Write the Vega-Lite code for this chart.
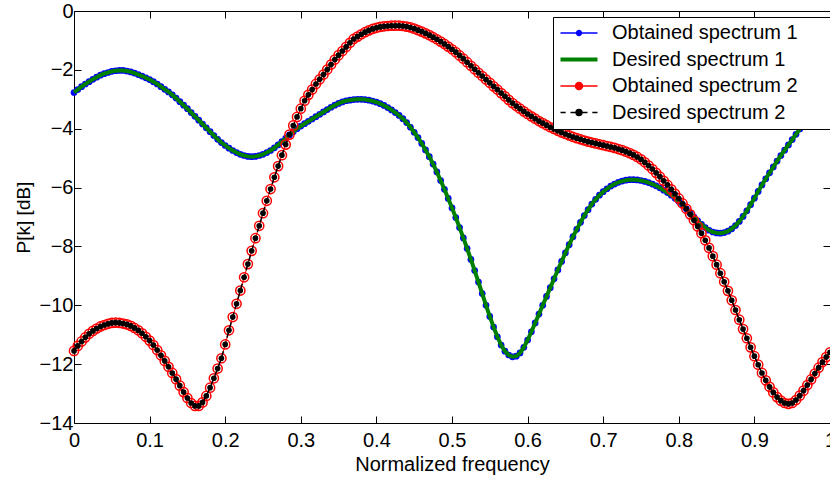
{
  "$schema": "https://vega.github.io/schema/vega-lite/v6.json",
  "width": 756,
  "height": 412,
  "autosize": "none",
  "padding": {"left": 74, "top": 11, "right": 0, "bottom": 55},
  "background": "white",
  "config": {
    "view": {"stroke": null},
    "font": "Liberation Sans",
    "axis": {
      "domainColor": "black", "tickColor": "black", "labelColor": "black", "titleColor": "black",
      "domainWidth": 1, "tickWidth": 1, "tickSize": -7, "grid": false,
      "labelFont": "Liberation Sans", "labelFontSize": 20, "titleFont": "Liberation Sans",
      "titleFontSize": 20, "titleFontWeight": "normal", "labelFlush": false, "labelOverlap": false
    }
  },
  "data": {"values": [
{"f":0.000,"s1":-2.77,"s2":-11.55},{"f":0.005,"s1":-2.67,"s2":-11.38},{"f":0.010,"s1":-2.57,"s2":-11.23},{"f":0.015,"s1":-2.48,"s2":-11.09},{"f":0.020,"s1":-2.40,"s2":-10.97},
{"f":0.025,"s1":-2.32,"s2":-10.87},{"f":0.030,"s1":-2.25,"s2":-10.79},{"f":0.035,"s1":-2.18,"s2":-10.72},{"f":0.040,"s1":-2.13,"s2":-10.67},{"f":0.045,"s1":-2.09,"s2":-10.63},
{"f":0.050,"s1":-2.05,"s2":-10.60},{"f":0.055,"s1":-2.03,"s2":-10.59},{"f":0.060,"s1":-2.02,"s2":-10.60},{"f":0.065,"s1":-2.02,"s2":-10.62},{"f":0.070,"s1":-2.04,"s2":-10.65},
{"f":0.075,"s1":-2.07,"s2":-10.70},{"f":0.080,"s1":-2.11,"s2":-10.77},{"f":0.085,"s1":-2.16,"s2":-10.85},{"f":0.090,"s1":-2.21,"s2":-10.95},{"f":0.095,"s1":-2.27,"s2":-11.07},
{"f":0.100,"s1":-2.33,"s2":-11.20},{"f":0.105,"s1":-2.40,"s2":-11.35},{"f":0.110,"s1":-2.48,"s2":-11.52},{"f":0.115,"s1":-2.57,"s2":-11.70},{"f":0.120,"s1":-2.66,"s2":-11.89},
{"f":0.125,"s1":-2.75,"s2":-12.09},{"f":0.130,"s1":-2.85,"s2":-12.30},{"f":0.135,"s1":-2.96,"s2":-12.51},{"f":0.140,"s1":-3.08,"s2":-12.73},{"f":0.145,"s1":-3.20,"s2":-12.95},
{"f":0.150,"s1":-3.32,"s2":-13.15},{"f":0.155,"s1":-3.45,"s2":-13.32},{"f":0.160,"s1":-3.58,"s2":-13.42},{"f":0.165,"s1":-3.71,"s2":-13.42},{"f":0.170,"s1":-3.84,"s2":-13.30},
{"f":0.175,"s1":-3.97,"s2":-13.08},{"f":0.180,"s1":-4.10,"s2":-12.80},{"f":0.185,"s1":-4.23,"s2":-12.48},{"f":0.190,"s1":-4.36,"s2":-12.15},{"f":0.195,"s1":-4.47,"s2":-11.80},
{"f":0.200,"s1":-4.57,"s2":-11.33},{"f":0.205,"s1":-4.66,"s2":-10.85},{"f":0.210,"s1":-4.74,"s2":-10.40},{"f":0.215,"s1":-4.81,"s2":-9.95},{"f":0.220,"s1":-4.87,"s2":-9.50},
{"f":0.225,"s1":-4.91,"s2":-9.05},{"f":0.230,"s1":-4.94,"s2":-8.60},{"f":0.235,"s1":-4.95,"s2":-8.15},{"f":0.240,"s1":-4.94,"s2":-7.72},{"f":0.245,"s1":-4.91,"s2":-7.30},
{"f":0.250,"s1":-4.87,"s2":-6.87},{"f":0.255,"s1":-4.81,"s2":-6.45},{"f":0.260,"s1":-4.74,"s2":-6.05},{"f":0.265,"s1":-4.65,"s2":-5.65},{"f":0.270,"s1":-4.55,"s2":-5.27},
{"f":0.275,"s1":-4.44,"s2":-4.90},{"f":0.280,"s1":-4.33,"s2":-4.54},{"f":0.285,"s1":-4.21,"s2":-4.20},{"f":0.290,"s1":-4.10,"s2":-3.89},{"f":0.295,"s1":-4.00,"s2":-3.60},
{"f":0.300,"s1":-3.91,"s2":-3.32},{"f":0.305,"s1":-3.83,"s2":-3.05},{"f":0.310,"s1":-3.75,"s2":-2.85},{"f":0.315,"s1":-3.67,"s2":-2.67},{"f":0.320,"s1":-3.59,"s2":-2.48},
{"f":0.325,"s1":-3.51,"s2":-2.32},{"f":0.330,"s1":-3.43,"s2":-2.16},{"f":0.335,"s1":-3.35,"s2":-1.99},{"f":0.340,"s1":-3.27,"s2":-1.82},{"f":0.345,"s1":-3.20,"s2":-1.65},
{"f":0.350,"s1":-3.14,"s2":-1.50},{"f":0.355,"s1":-3.09,"s2":-1.36},{"f":0.360,"s1":-3.05,"s2":-1.22},{"f":0.365,"s1":-3.03,"s2":-1.08},{"f":0.370,"s1":-3.01,"s2":-0.95},
{"f":0.375,"s1":-3.00,"s2":-0.87},{"f":0.380,"s1":-3.00,"s2":-0.79},{"f":0.385,"s1":-3.01,"s2":-0.72},{"f":0.390,"s1":-3.03,"s2":-0.66},{"f":0.395,"s1":-3.06,"s2":-0.61},
{"f":0.400,"s1":-3.10,"s2":-0.57},{"f":0.405,"s1":-3.15,"s2":-0.54},{"f":0.410,"s1":-3.21,"s2":-0.52},{"f":0.415,"s1":-3.28,"s2":-0.51},{"f":0.420,"s1":-3.36,"s2":-0.50},
{"f":0.425,"s1":-3.45,"s2":-0.50},{"f":0.430,"s1":-3.55,"s2":-0.50},{"f":0.435,"s1":-3.66,"s2":-0.51},{"f":0.440,"s1":-3.79,"s2":-0.53},{"f":0.445,"s1":-3.95,"s2":-0.56},
{"f":0.450,"s1":-4.12,"s2":-0.60},{"f":0.455,"s1":-4.30,"s2":-0.65},{"f":0.460,"s1":-4.50,"s2":-0.70},{"f":0.465,"s1":-4.72,"s2":-0.76},{"f":0.470,"s1":-4.95,"s2":-0.82},
{"f":0.475,"s1":-5.20,"s2":-0.89},{"f":0.480,"s1":-5.47,"s2":-0.96},{"f":0.485,"s1":-5.76,"s2":-1.04},{"f":0.490,"s1":-6.06,"s2":-1.12},{"f":0.495,"s1":-6.37,"s2":-1.21},
{"f":0.500,"s1":-6.69,"s2":-1.30},{"f":0.505,"s1":-7.02,"s2":-1.40},{"f":0.510,"s1":-7.36,"s2":-1.51},{"f":0.515,"s1":-7.71,"s2":-1.62},{"f":0.520,"s1":-8.07,"s2":-1.74},
{"f":0.525,"s1":-8.44,"s2":-1.86},{"f":0.530,"s1":-8.82,"s2":-1.98},{"f":0.535,"s1":-9.21,"s2":-2.10},{"f":0.540,"s1":-9.60,"s2":-2.21},{"f":0.545,"s1":-10.00,"s2":-2.33},
{"f":0.550,"s1":-10.38,"s2":-2.44},{"f":0.555,"s1":-10.74,"s2":-2.56},{"f":0.560,"s1":-11.07,"s2":-2.67},{"f":0.565,"s1":-11.35,"s2":-2.79},{"f":0.570,"s1":-11.56,"s2":-2.90},
{"f":0.575,"s1":-11.69,"s2":-3.02},{"f":0.580,"s1":-11.75,"s2":-3.13},{"f":0.585,"s1":-11.73,"s2":-3.23},{"f":0.590,"s1":-11.62,"s2":-3.32},{"f":0.595,"s1":-11.43,"s2":-3.41},
{"f":0.600,"s1":-11.18,"s2":-3.50},{"f":0.605,"s1":-10.90,"s2":-3.58},{"f":0.610,"s1":-10.60,"s2":-3.66},{"f":0.615,"s1":-10.30,"s2":-3.74},{"f":0.620,"s1":-10.00,"s2":-3.81},
{"f":0.625,"s1":-9.70,"s2":-3.88},{"f":0.630,"s1":-9.40,"s2":-3.95},{"f":0.635,"s1":-9.10,"s2":-4.01},{"f":0.640,"s1":-8.80,"s2":-4.07},{"f":0.645,"s1":-8.51,"s2":-4.13},
{"f":0.650,"s1":-8.22,"s2":-4.18},{"f":0.655,"s1":-7.94,"s2":-4.23},{"f":0.660,"s1":-7.67,"s2":-4.28},{"f":0.665,"s1":-7.42,"s2":-4.32},{"f":0.670,"s1":-7.18,"s2":-4.36},
{"f":0.675,"s1":-6.95,"s2":-4.40},{"f":0.680,"s1":-6.75,"s2":-4.44},{"f":0.685,"s1":-6.56,"s2":-4.47},{"f":0.690,"s1":-6.40,"s2":-4.50},{"f":0.695,"s1":-6.26,"s2":-4.53},
{"f":0.700,"s1":-6.14,"s2":-4.56},{"f":0.705,"s1":-6.04,"s2":-4.59},{"f":0.710,"s1":-5.95,"s2":-4.62},{"f":0.715,"s1":-5.88,"s2":-4.65},{"f":0.720,"s1":-5.82,"s2":-4.69},
{"f":0.725,"s1":-5.78,"s2":-4.73},{"f":0.730,"s1":-5.75,"s2":-4.78},{"f":0.735,"s1":-5.73,"s2":-4.83},{"f":0.740,"s1":-5.73,"s2":-4.89},{"f":0.745,"s1":-5.74,"s2":-4.96},
{"f":0.750,"s1":-5.76,"s2":-5.04},{"f":0.755,"s1":-5.79,"s2":-5.14},{"f":0.760,"s1":-5.83,"s2":-5.25},{"f":0.765,"s1":-5.88,"s2":-5.37},{"f":0.770,"s1":-5.94,"s2":-5.50},
{"f":0.775,"s1":-6.01,"s2":-5.63},{"f":0.780,"s1":-6.09,"s2":-5.77},{"f":0.785,"s1":-6.17,"s2":-5.91},{"f":0.790,"s1":-6.26,"s2":-6.06},{"f":0.795,"s1":-6.36,"s2":-6.21},
{"f":0.800,"s1":-6.47,"s2":-6.37},{"f":0.805,"s1":-6.59,"s2":-6.54},{"f":0.810,"s1":-6.72,"s2":-6.72},{"f":0.815,"s1":-6.86,"s2":-6.91},{"f":0.820,"s1":-7.00,"s2":-7.11},
{"f":0.825,"s1":-7.13,"s2":-7.32},{"f":0.830,"s1":-7.25,"s2":-7.55},{"f":0.835,"s1":-7.36,"s2":-7.79},{"f":0.840,"s1":-7.45,"s2":-8.05},{"f":0.845,"s1":-7.51,"s2":-8.33},
{"f":0.850,"s1":-7.54,"s2":-8.62},{"f":0.855,"s1":-7.55,"s2":-8.91},{"f":0.860,"s1":-7.53,"s2":-9.20},{"f":0.865,"s1":-7.48,"s2":-9.51},{"f":0.870,"s1":-7.40,"s2":-9.83},
{"f":0.875,"s1":-7.29,"s2":-10.16},{"f":0.880,"s1":-7.15,"s2":-10.49},{"f":0.885,"s1":-6.98,"s2":-10.81},{"f":0.890,"s1":-6.79,"s2":-11.12},{"f":0.895,"s1":-6.58,"s2":-11.43},
{"f":0.900,"s1":-6.36,"s2":-11.73},{"f":0.905,"s1":-6.13,"s2":-12.02},{"f":0.910,"s1":-5.91,"s2":-12.30},{"f":0.915,"s1":-5.70,"s2":-12.55},{"f":0.920,"s1":-5.50,"s2":-12.77},
{"f":0.925,"s1":-5.30,"s2":-12.96},{"f":0.930,"s1":-5.10,"s2":-13.12},{"f":0.935,"s1":-4.91,"s2":-13.24},{"f":0.940,"s1":-4.73,"s2":-13.32},{"f":0.945,"s1":-4.55,"s2":-13.35},
{"f":0.950,"s1":-4.37,"s2":-13.32},{"f":0.955,"s1":-4.19,"s2":-13.22},{"f":0.960,"s1":-4.01,"s2":-13.07},{"f":0.965,"s1":-3.83,"s2":-12.90},{"f":0.970,"s1":-3.65,"s2":-12.71},
{"f":0.975,"s1":-3.47,"s2":-12.52},{"f":0.980,"s1":-3.31,"s2":-12.32},{"f":0.985,"s1":-3.17,"s2":-12.12},{"f":0.990,"s1":-3.07,"s2":-11.93},{"f":0.995,"s1":-3.00,"s2":-11.76},
{"f":1.000,"s1":-2.95,"s2":-11.60}
  ]},
  "layer": [
    {
      "mark": {"type": "line", "strokeWidth": 1.5, "point": {"filled": true, "size": 45}},
      "encoding": {
        "x": {"field": "f", "type": "quantitative", "scale": {"domain": [0, 1], "nice": false, "zero": false},
              "axis": {"orient": "bottom", "title": "Normalized frequency", "values": [0,0.1,0.2,0.3,0.4,0.5,0.6,0.7,0.8,0.9,1], "format": ".1~f", "labelPadding": 14, "titlePadding": 4}},
        "y": {"field": "s1", "type": "quantitative", "scale": {"domain": [-14, 0], "nice": false, "zero": false},
              "axis": {"orient": "left", "title": "P[k] [dB]", "values": [-14,-12,-10,-8,-6,-4,-2,0], "format": "d", "labelPadding": 8, "titlePadding": 6, "titleFontSize": 19}},
        "color": {"datum": "Obtained spectrum 1", "type": "nominal",
          "scale": {"domain": ["Obtained spectrum 1", "Desired spectrum 1", "Obtained spectrum 2", "Desired spectrum 2"], "range": ["#0000ff", "#008000", "#ff0000", "#000000"]},
          "legend": {
            "orient": "none", "legendX": 479, "legendY": 6, "title": null,
            "fillColor": "white", "strokeColor": "black", "padding": 6,
            "labelFont": "Liberation Sans", "labelFontSize": 20, "labelColor": "black", "labelOffset": 23,
            "labelLimit": 1000, "symbolOffset": 10,
            "rowPadding": 6.5, "symbolSize": 1369, "symbolType": "M-1,0L1,0", "symbolStrokeWidth": 1.5,
            "labelExpr": "datum.label + '\u00a0\u00a0\u00a0\u00a0\u00a0\u200b'",
            "encode": {
              "symbols": {"update": {
                "size": {"value": 1369},
                "shape": {"signal": "datum.value === 'Obtained spectrum 1' ? 'M-1,0L1,0M0.13,0A0.13,0.13,0,1,1,-0.13,0A0.13,0.13,0,1,1,0.13,0' : datum.value === 'Obtained spectrum 2' ? 'M-1,0L-0.19,0M0.19,0L1,0M0.19,0A0.19,0.19,0,1,1,-0.19,0A0.19,0.19,0,1,1,0.19,0' : datum.value === 'Desired spectrum 2' ? 'M-1,0L-0.72,0M-0.46,0L-0.2,0M0.2,0L0.46,0M0.72,0L1,0M0.16,0A0.16,0.16,0,1,1,-0.16,0A0.16,0.16,0,1,1,0.16,0' : 'M-1,0L1,0'"},
                "fill": {"signal": "datum.value === 'Obtained spectrum 1' ? '#0000ff' : datum.value === 'Obtained spectrum 2' ? '#ffffff' : datum.value === 'Desired spectrum 2' ? '#000000' : 'transparent'"},
                "strokeWidth": {"signal": "datum.value === 'Desired spectrum 1' ? 4 : 1.5"},
                "strokeDash": {"value": []},
                "opacity": {"value": 1}
              }}
            }
          }
        }
      }
    },
    {
      "mark": {"type": "line", "strokeWidth": 4},
      "encoding": {
        "x": {"field": "f", "type": "quantitative", "axis": {"orient": "top", "labels": false, "title": null, "values": [0,0.1,0.2,0.3,0.4,0.5,0.6,0.7,0.8,0.9,1]}},
        "y": {"field": "s1", "type": "quantitative", "axis": {"orient": "right", "labels": false, "title": null, "values": [-14,-12,-10,-8,-6,-4,-2,0]}},
        "color": {"datum": "Desired spectrum 1", "type": "nominal"}
      }
    },
    {
      "mark": {"type": "line", "strokeWidth": 1, "point": {"filled": false, "size": 85, "strokeWidth": 1.5}},
      "encoding": {
        "x": {"field": "f", "type": "quantitative", "axis": null},
        "y": {"field": "s2", "type": "quantitative", "axis": null},
        "color": {"datum": "Obtained spectrum 2", "type": "nominal"}
      }
    },
    {
      "mark": {"type": "line", "strokeWidth": 1.5, "strokeDash": [6, 4], "point": {"filled": true, "size": 32}},
      "encoding": {
        "x": {"field": "f", "type": "quantitative", "axis": null},
        "y": {"field": "s2", "type": "quantitative", "axis": null},
        "color": {"datum": "Desired spectrum 2", "type": "nominal"}
      }
    }
  ],
  "resolve": {"axis": {"x": "independent", "y": "independent"}}
}
